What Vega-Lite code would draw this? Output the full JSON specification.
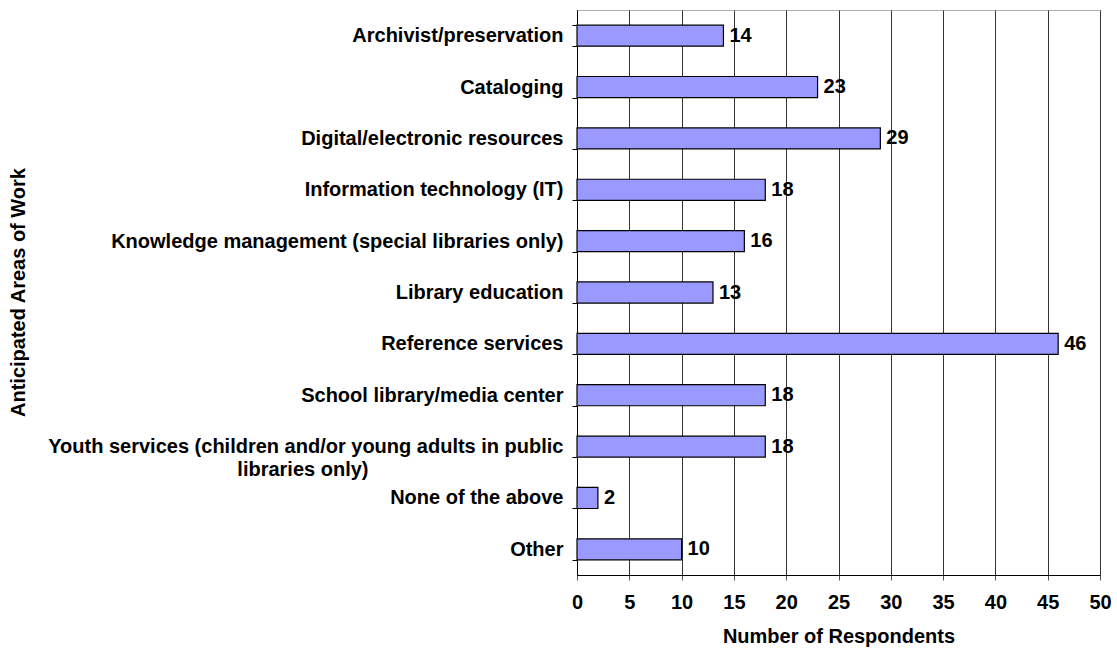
{
  "$schema": "https://vega.github.io/schema/vega-lite/v6.json",
  "width": 523,
  "height": 565,
  "autosize": "none",
  "padding": {"left": 577, "top": 10, "right": 17, "bottom": 77},
  "background": "white",
  "config": {
    "view": {"stroke": "#b0b0b0", "strokeWidth": 1},
    "font": "Liberation Sans"
  },
  "data": {
    "values": [
      {"area": "Archivist/preservation", "n": 14},
      {"area": "Cataloging", "n": 23},
      {"area": "Digital/electronic resources", "n": 29},
      {"area": "Information technology (IT)", "n": 18},
      {"area": "Knowledge management (special libraries only)", "n": 16},
      {"area": "Library education", "n": 13},
      {"area": "Reference services", "n": 46},
      {"area": "School library/media center", "n": 18},
      {"area": "Youth services (children and/or young adults in public libraries only)", "n": 18},
      {"area": "None of the above", "n": 2},
      {"area": "Other", "n": 10}
    ]
  },
  "encoding": {
    "y": {
      "field": "area",
      "type": "nominal",
      "sort": null,
      "scale": {"paddingInner": 0.59, "paddingOuter": 0.295},
      "axis": {
        "title": "Anticipated Areas of Work",
        "titleFont": "Liberation Sans",
        "titleFontSize": 20,
        "titleFontWeight": "bold",
        "titleColor": "black",
        "titleX": -559,
        "titleY": 282,
        "titleAngle": -90,
        "titleAlign": "center",
        "titleBaseline": "middle",
        "labelExpr": "datum.value == 'Youth services (children and/or young adults in public libraries only)' ? ['Youth services (children and/or young adults in public', 'libraries only)\u2800\u2800\u2800\u2800\u2800\u2800\u2800\u2800\u2800\u2800\u2800\u2800\u2800'] : datum.value",
        "labelFont": "Liberation Sans",
        "labelFontSize": 20,
        "labelFontWeight": "bold",
        "labelColor": "black",
        "labelLimit": 700,
        "labelLineHeight": 23,
        "labelPadding": 9,
        "tickBand": "extent",
        "tickSize": 5,
        "tickColor": "black",
        "domainColor": "black",
        "grid": false
      }
    },
    "x": {
      "field": "n",
      "type": "quantitative",
      "scale": {"domain": [0, 50], "nice": false},
      "axis": {
        "title": "Number of Respondents",
        "titleFont": "Liberation Sans",
        "titleFontSize": 20,
        "titleFontWeight": "bold",
        "titleColor": "black",
        "titlePadding": 14,
        "values": [0, 5, 10, 15, 20, 25, 30, 35, 40, 45, 50],
        "labelFont": "Liberation Sans",
        "labelFontSize": 20,
        "labelFontWeight": "bold",
        "labelColor": "black",
        "labelPadding": 12,
        "labelFlush": false,
        "tickSize": 5,
        "tickColor": "#555",
        "domainColor": "black",
        "grid": true,
        "gridColor": "#333",
        "gridWidth": 1,
        "gridOpacity": 1
      }
    }
  },
  "layer": [
    {
      "mark": {"type": "bar", "color": "#9999ff", "stroke": "black", "strokeWidth": 1.2}
    },
    {
      "mark": {"type": "text", "align": "left", "baseline": "middle", "dx": 6, "font": "Liberation Sans", "fontSize": 20, "fontWeight": "bold", "color": "black"},
      "encoding": {"text": {"field": "n", "type": "quantitative"}}
    }
  ]
}
